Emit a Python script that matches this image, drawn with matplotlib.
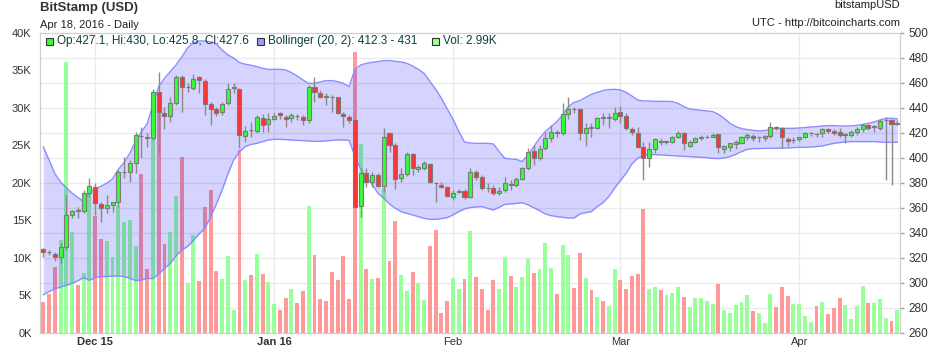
import matplotlib
matplotlib.use("Agg")
import matplotlib.pyplot as plt
import matplotlib.dates as mdates
import pandas as pd
from matplotlib.patches import Rectangle

# daily candles, Nov 22 2015 .. Apr 18 2016
start_day = "2015-11-22"

opens = [326.6, 324.4, 323.2, 320.2, 328.8, 353.8, 357.7, 357.0, 371.4, 376.8,
         362.6, 359.9, 361.8, 364.2, 388.4, 388.8, 395.4, 417.4, 416.8, 415.4,
         452.8, 436.0, 433.3, 443.4, 464.8, 456.1, 456.0, 464.2, 461.6, 442.6,
         438.6, 436.5, 443.4, 455.9, 454.9, 417.6, 422.2, 421.3, 432.0, 426.6,
         431.2, 435.4, 432.8, 431.7, 433.4, 432.5, 429.8, 456.8, 452.0, 448.9,
         448.3, 448.2, 434.6, 432.8, 430.1, 361.3, 387.9, 380.8, 385.8, 377.3,
         419.4, 409.8, 383.4, 386.9, 402.9, 390.6, 392.0, 394.6, 379.5, 378.4,
         376.2, 368.8, 372.7, 373.0, 368.2, 388.8, 384.8, 375.5, 375.4, 371.4,
         374.1, 379.2, 377.8, 383.2, 391.4, 405.6, 399.4, 407.4, 415.4, 420.8,
         420.0, 434.6, 438.7, 438.6, 419.4, 424.1, 423.4, 432.2, 432.0, 430.9,
         436.8, 433.6, 422.6, 420.0, 408.2, 400.0, 406.6, 413.6, 412.7, 412.8,
         416.2, 419.4, 409.6, 412.8, 415.9, 416.2, 416.8, 418.6, 407.2, 408.2,
         410.9, 411.4, 416.2, 417.6, 416.1, 415.4, 417.3, 424.8, 423.4, 415.2,
         414.0, 414.6, 416.2, 419.3, 419.0, 419.4, 422.6, 421.6, 420.8, 418.3,
         418.4, 420.5, 422.6, 426.1, 424.7, 423.7, 430.0, 430.1, 427.1]
highs = [327.4, 326.1, 324.7, 331.9, 370.1, 358.1, 360.8, 374.1, 383.4, 379.4,
         364.8, 370.1, 364.8, 390.1, 400.2, 398.1, 420.8, 424.8, 420.0, 454.6,
         468.8, 440.8, 448.8, 466.1, 466.1, 459.4, 466.9, 465.3, 462.6, 444.8,
         440.8, 444.8, 459.4, 459.4, 455.4, 425.3, 428.8, 434.1, 434.9, 435.4,
         435.4, 436.8, 434.1, 435.9, 434.9, 434.1, 458.1, 464.8, 454.1, 451.4,
         450.1, 448.8, 436.8, 434.1, 430.6, 391.4, 391.4, 388.8, 387.4, 423.4,
         420.8, 411.4, 391.4, 404.8, 403.4, 394.1, 397.6, 395.4, 380.8, 380.8,
         377.3, 374.1, 374.6, 374.6, 391.4, 390.1, 386.1, 379.4, 378.1, 376.8,
         384.2, 382.1, 384.8, 392.8, 407.4, 410.1, 410.1, 420.8, 426.1, 422.1,
         444.0, 448.2, 440.2, 439.4, 427.4, 427.4, 432.8, 435.4, 435.4, 440.8,
         441.3, 435.4, 424.8, 424.8, 412.8, 412.8, 416.0, 415.4, 414.1, 417.3,
         421.6, 420.8, 414.1, 416.8, 418.1, 418.1, 420.0, 418.9, 410.1, 412.0,
         414.1, 417.3, 419.4, 418.9, 417.3, 417.8, 428.8, 425.3, 424.8, 416.8,
         416.2, 416.8, 420.8, 420.8, 420.0, 423.4, 423.4, 422.6, 423.4, 419.4,
         422.1, 424.8, 426.9, 426.9, 426.1, 430.6, 432.8, 430.9, 430.0]
lows = [320.2, 322.1, 317.3, 316.0, 326.1, 351.4, 351.4, 355.4, 368.8, 354.1,
        348.8, 355.4, 356.2, 360.8, 383.4, 380.8, 388.0, 399.4, 408.8, 414.0,
        403.4, 422.6, 428.8, 442.1, 436.8, 452.8, 454.1, 452.0, 434.1, 426.1,
        433.3, 434.1, 442.1, 451.4, 407.4, 412.8, 416.8, 419.4, 420.8, 420.8,
        430.1, 430.6, 424.2, 428.8, 430.1, 426.1, 428.0, 444.8, 447.4, 442.1,
        436.8, 434.9, 424.8, 427.4, 359.4, 352.2, 376.8, 376.8, 376.2, 372.8,
        404.8, 374.6, 380.8, 385.3, 386.1, 388.8, 390.1, 380.0, 364.8, 375.4,
        368.2, 366.1, 371.4, 366.6, 367.4, 382.1, 374.1, 372.8, 370.1, 370.1,
        372.8, 374.1, 376.8, 382.1, 390.1, 394.1, 398.1, 406.1, 412.8, 416.8,
        418.1, 430.6, 435.4, 414.1, 409.3, 416.8, 422.6, 426.1, 423.4, 429.6,
        428.0, 422.1, 418.1, 407.4, 382.1, 392.8, 403.4, 410.1, 410.9, 411.4,
        415.4, 406.1, 408.8, 411.4, 414.1, 415.4, 416.2, 403.4, 404.0, 405.6,
        406.6, 410.9, 414.1, 413.6, 412.8, 413.6, 415.4, 422.1, 407.4, 409.3,
        412.0, 413.6, 415.4, 417.3, 416.8, 416.8, 419.4, 418.1, 416.2, 411.4,
        416.8, 418.1, 420.8, 422.1, 420.8, 422.1, 382.1, 378.1, 425.8]
closes = [324.5, 324.2, 320.5, 328.8, 353.8, 357.0, 357.5, 371.4, 377.3, 363.4,
          359.4, 362.1, 364.2, 388.2, 388.6, 395.4, 417.8, 417.2, 415.4, 452.8,
          436.8, 433.3, 443.4, 464.8, 456.8, 456.3, 462.6, 462.1, 442.9, 438.6,
          435.4, 442.6, 454.9, 456.1, 418.1, 421.6, 422.0, 432.2, 426.4, 430.9,
          433.2, 434.1, 431.2, 434.4, 433.2, 429.8, 456.8, 452.8, 448.8, 448.7,
          448.1, 435.4, 433.3, 430.1, 360.2, 387.4, 380.8, 386.1, 377.3, 416.2,
          410.1, 382.6, 386.9, 402.9, 391.4, 392.2, 395.4, 380.5, 379.3, 376.2,
          369.3, 372.0, 372.9, 368.2, 388.2, 384.8, 375.4, 375.3, 371.4, 373.0,
          380.0, 377.8, 383.2, 391.4, 404.8, 399.4, 407.2, 415.4, 420.8, 419.4,
          434.6, 438.6, 438.5, 419.4, 424.0, 423.9, 432.0, 432.0, 432.2, 435.4,
          433.6, 423.4, 420.2, 408.8, 400.0, 406.6, 414.6, 412.5, 412.9, 416.2,
          419.4, 411.4, 412.8, 415.4, 416.1, 416.4, 418.1, 408.2, 409.3, 411.4,
          412.5, 416.8, 418.1, 416.0, 416.3, 417.3, 424.8, 423.4, 416.2, 413.6,
          414.2, 416.2, 420.0, 419.5, 418.8, 422.6, 421.3, 420.0, 417.8, 418.5,
          420.8, 423.2, 426.1, 424.0, 424.9, 429.3, 430.2, 426.9, 427.6]
volume = [4050, 5200, 8720, 12330, 36100, 13400, 6320, 7920, 19000, 15530,
          12460, 12200, 10060, 16870, 14730, 15000, 11530, 21140, 8460, 26000,
          29500, 11810, 13410, 18210, 23410, 6620, 13010, 6880, 16750, 19010,
          8210, 7150, 10210, 3020, 24340, 7010, 7680, 10480, 7810, 6750,
          3820, 3020, 4620, 5820, 3950, 5550, 16880, 10350, 4480, 4220,
          8080, 7010, 10210, 4480, 37400, 25140, 8480, 7150, 7280, 19300,
          9550, 14880, 7680, 5550, 8080, 6610, 4350, 11550, 13680, 2620,
          4220, 7280, 5810, 7150, 13550, 7410, 5810, 3020, 7010, 5820,
          10080, 7550, 6080, 7420, 9810, 7950, 8480, 11950, 8610, 5150,
          11680, 10350, 5950, 10610, 7280, 5680, 4750, 4220, 3550, 8480,
          7020, 5820, 7550, 7820, 16480, 5820, 6080, 5680, 5020, 5280,
          6080, 4750, 3420, 4620, 4620, 4260, 3820, 6480, 3020, 2620,
          3640, 4080, 4970, 2880, 2620, 1290, 5200, 3420, 6080, 4880,
          3820, 3820, 2220, 1420, 3550, 4080, 2490, 3290, 4620, 3680,
          1820, 3550, 6220, 3950, 3950, 4480, 2000, 1550, 2990]
boll_upper = [408.5, 398.1, 387.2, 380.4, 376.0, 371.5, 368.0, 364.8, 372.0, 375.0,
              377.0, 379.5, 383.0, 390.5, 396.0, 403.5, 413.0, 420.5, 427.0, 442.1,
              456.8, 463.4, 468.8, 474.1, 480.5, 487.7, 491.7, 493.3, 493.3, 492.5,
              490.9, 486.0, 482.1, 479.7, 476.0, 474.7, 473.9, 472.8, 471.4, 470.6,
              470.6, 470.6, 470.1, 468.0, 465.3, 462.1, 459.4, 459.4, 460.5, 461.6,
              461.6, 460.8, 459.4, 456.8, 470.6, 474.1, 475.4, 476.2, 476.8, 477.6,
              477.6, 477.0, 476.5, 475.4, 473.3, 470.6, 467.4, 461.0, 454.6, 447.4,
              439.0, 430.8, 421.0, 412.4, 411.7, 411.4, 411.4, 411.4, 410.9, 404.8,
              399.4, 398.9, 398.6, 396.8, 402.1, 408.8, 415.4, 420.8, 424.8, 428.8,
              434.1, 440.8, 444.2, 445.6, 448.2, 450.6, 452.2, 453.6, 454.4, 454.6,
              454.1, 452.2, 449.3, 446.1, 445.3, 445.3, 445.0, 445.0, 445.0, 444.8,
              443.4, 440.8, 438.9, 438.4, 437.8, 437.3, 436.8, 434.6, 431.4, 427.4,
              424.8, 423.2, 422.4, 421.8, 421.3, 421.6, 422.6, 423.4, 423.4, 423.4,
              423.4, 423.7, 424.0, 424.5, 424.8, 425.3, 425.6, 425.6, 425.3, 425.3,
              425.3, 425.8, 426.6, 427.4, 428.5, 430.1, 431.4, 431.4, 431.0]
boll_lower = [290.3, 292.8, 295.0, 296.5, 297.8, 299.4, 301.5, 304.0, 301.8, 304.0,
              304.8, 304.8, 305.3, 305.3, 304.8, 303.4, 301.6, 302.0, 303.4, 303.2,
              306.9, 311.4, 315.4, 321.3, 326.1, 328.8, 333.6, 338.9, 343.4, 352.8,
              362.9, 374.1, 386.9, 398.1, 404.8, 408.8, 410.6, 411.4, 412.8, 414.1,
              414.6, 414.6, 414.4, 414.1, 413.8, 413.6, 413.3, 413.0, 413.0, 413.3,
              413.8, 414.1, 414.1, 413.8, 401.0, 391.0, 384.0, 378.5, 371.5, 367.5,
              362.9, 359.4, 356.8, 355.4, 354.1, 352.8, 351.4, 350.6, 350.6, 351.2,
              352.0, 354.1, 356.8, 358.9, 360.0, 360.5, 360.8, 359.4, 358.1, 360.2,
              362.6, 362.9, 363.4, 363.9, 362.1, 359.9, 357.6, 354.9, 353.6, 352.8,
              352.2, 351.7, 351.7, 354.9, 356.0, 356.8, 360.8, 363.9, 368.8, 375.4,
              381.6, 387.4, 394.9, 399.4, 401.8, 402.4, 402.4, 402.1, 401.8, 401.6,
              401.3, 401.0, 400.8, 400.5, 400.2, 400.0, 399.4, 399.2, 399.7, 400.8,
              402.6, 404.8, 406.6, 407.2, 407.2, 407.4, 407.4, 407.4, 407.7, 407.7,
              408.0, 408.2, 408.2, 408.5, 408.8, 409.3, 410.4, 411.4, 412.0, 412.5,
              412.8, 412.8, 412.8, 412.8, 412.8, 412.5, 412.2, 412.2, 412.3]

month_ticks = ["2015-12-01", "2016-01-01", "2016-02-01", "2016-03-01", "2016-04-01"]
month_labels = ["Dec 15", "Jan 16", "Feb", "Mar", "Apr"]
price_ticks = list(range(260, 501, 20))
vol_ticks = list(range(0, 40001, 5000))
vol_labels = ["0K", "5K", "10K", "15K", "20K", "25K", "30K", "35K", "40K"]

plt.rcParams['font.family'] = ['Liberation Sans', 'DejaVu Sans']

W, H = 940, 348
fig = plt.figure(figsize=(W / 100, H / 100), dpi=100)
ax = fig.add_axes([40 / W, 1 - 332.6 / H, 860 / W, 300 / H])
ax2 = ax.twinx()

days = mdates.date2num(pd.date_range(start_day, periods=len(closes)))
month_x = mdates.date2num(pd.to_datetime(month_ticks))
up = [c >= o for o, c in zip(opens, closes)]

# grid lives on the back axes so the bars cover it
for p in price_ticks[1:-1]:
    ax.axhline((p - 260) / 240 * 40000, color='#ebebeb', lw=1, zorder=0)
for mx in month_x:
    ax.axvline(mx, color='#ebebeb', lw=1, zorder=0)

# volume
vcol = ['#99ff99' if u else '#ff9999' for u in up]
ax.bar(days, volume, width=0.68, color=vcol, lw=0, zorder=2)
ax.set_ylim(0, 40000)
ax.set_yticks(vol_ticks)
ax.set_yticklabels(vol_labels)

# bollinger band
ax2.fill_between(days, boll_lower, boll_upper, color='#0000ff', alpha=0.17, lw=0, zorder=1)
ax2.plot(days, boll_upper, color='#8c8cff', lw=1, zorder=2)
ax2.plot(days, boll_lower, color='#8c8cff', lw=1, zorder=2)

# candles
ax2.vlines(days, lows, highs, color='#8a8a8a', lw=1, zorder=3)
bottoms = [min(o, c) for o, c in zip(opens, closes)]
heights = [abs(c - o) for o, c in zip(opens, closes)]
ccol = ['#33ff33' if u else '#ff3333' for u in up]
ax2.bar(days, heights, bottom=bottoms, width=0.7, color=ccol,
        edgecolor='#7a7a7a', lw=0.8, zorder=4)
ax2.set_ylim(260, 500)
ax2.set_yticks(price_ticks)

ax.set_xlim(days[0] - 0.57, days[-1] + 0.47)
ax.set_xticks(month_x)
ax.set_xticklabels(month_labels)
for lab in ax.get_xticklabels()[:2]:
    lab.set_fontweight('bold')

for a in (ax, ax2):
    for s in a.spines.values():
        s.set_color('#cfcfcf')
ax.tick_params(axis='y', length=0, pad=6, labelsize=8, labelcolor='#333333')
ax.tick_params(axis='x', length=0, pad=3, labelsize=8, labelcolor='#333333')
ax2.tick_params(axis='y', length=3, width=1, color='#a0a0a0', pad=3,
                labelsize=8.5, labelcolor='#333333')

# header texts
fig.text(40 / W, 1 - 8 / H, "BitStamp (USD)", fontsize=9.5, fontweight='bold',
         color='#333333', va='center')
fig.text(40 / W, 1 - 25.5 / H, "Apr 18, 2016 - Daily", fontsize=8,
         color='#222222', va='center')
fig.text(900 / W, 1 - 5.5 / H, "bitstampUSD", fontsize=8, color='#222222',
         ha='right', va='center')
fig.text(900 / W, 1 - 22.5 / H, "UTC - http://bitcoincharts.com", fontsize=8,
         color='#222222', ha='right', va='center')

# legend row inside the plot
legend_items = [
    (46, '#33ff33', "Op:%.1f, Hi:%g, Lo:%.1f, Cl:%.1f" % (opens[-1], highs[-1], lows[-1], closes[-1])),
    (257, '#9999ff', "Bollinger (20, 2): %.1f - %g" % (boll_lower[-1], boll_upper[-1])),
    (432, '#99ff99', "Vol: %.2fK" % (volume[-1] / 1000)),
]
for lx, col, txt in legend_items:
    fig.add_artist(Rectangle((lx / W, 1 - 44.5 / H), 7 / W, 7 / H, transform=fig.transFigure,
                             facecolor=col, edgecolor='#333333', lw=0.8))
    fig.text((lx + 11) / W, 1 - 41 / H, txt, fontsize=8.5, color='#0d3d3d', va='center')

fig.savefig("out.png", dpi=100)
